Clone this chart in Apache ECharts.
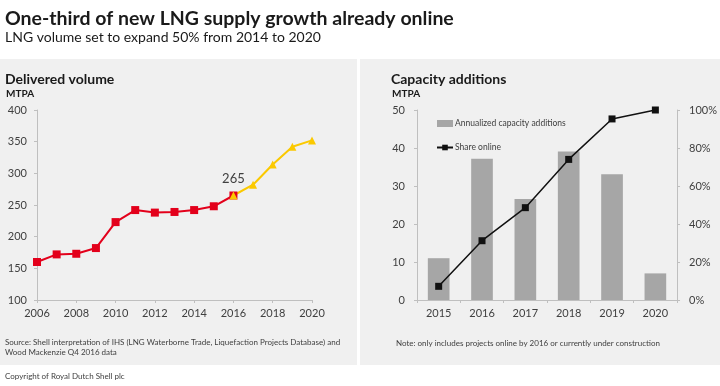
<!DOCTYPE html>
<html><head><meta charset="utf-8">
<script src="https://cdn.jsdelivr.net/npm/echarts@6/dist/echarts.min.js"></script>
<style>html,body{margin:0;padding:0;background:#fff}#c{width:720px;height:386px}</style>
</head><body><div id="c"></div>
<script>
const years = [2006,2007,2008,2009,2010,2011,2012,2013,2014,2015,2016,2017,2018,2019,2020];
const volumeActual = [160,172,173,182,223,242,238,239,242,248,265,null,null,null,null];
const volumeForecast = [null,null,null,null,null,null,null,null,null,null,265,282,314,342,352];
const capYears = ['2015','2016','2017','2018','2019','2020'];
const capacityAdditions = [11.0,37.2,26.6,39.1,33.1,7.0];
const shareOnline = [7.2,31.2,48.6,74,95.3,100];

const FONT = 'Lato';
const TXT = '#404040';
const chart = echarts.init(document.getElementById('c'));
chart.setOption({
  animation:false,
  backgroundColor:'#fff',
  textStyle:{fontFamily:FONT},
  graphic:[
    {type:'rect',shape:{x:0,y:59,width:357,height:306},style:{fill:'#f0f0f0'},z:-10},
    {type:'rect',shape:{x:360,y:59,width:360,height:306},style:{fill:'#f0f0f0'},z:-10},
    {type:'text',left:5,top:9,style:{text:'One-third of new LNG supply growth already online',font:'bold 19.5px '+FONT,fill:'#1a1a1a'}},
    {type:'text',left:5,top:30,style:{text:'LNG volume set to expand 50% from 2014 to 2020',font:'14px '+FONT,fill:'#1a1a1a'}},
    {type:'text',left:5,top:72,style:{text:'Delivered volume',font:'bold 14px '+FONT,fill:'#1a1a1a'}},
    {type:'text',left:6,top:89,style:{text:'MTPA',font:'bold 10px '+FONT,fill:'#1a1a1a'}},
    {type:'text',left:391,top:72,style:{text:'Capacity additions',font:'bold 14px '+FONT,fill:'#1a1a1a'}},
    {type:'text',left:392,top:89,style:{text:'MTPA',font:'bold 10px '+FONT,fill:'#1a1a1a'}},
    {type:'text',left:5,top:337,style:{text:'Source: Shell interpretation of IHS (LNG Waterborne Trade, Liquefaction Projects Database) and\nWood Mackenzie Q4 2016 data',font:'8px '+FONT,fill:TXT,lineHeight:10}},
    {type:'text',left:396,top:339,style:{text:'Note: only includes projects online by 2016 or currently under construction',font:'8px '+FONT,fill:TXT}},
    {type:'text',left:5,top:372,style:{text:'Copyright of Royal Dutch Shell plc',font:'8px '+FONT,fill:TXT}}
  ],
  legend:{
    left:431, top:114, orient:'vertical', itemGap:15, itemWidth:16, itemHeight:7,
    textStyle:{fontSize:8.5,color:TXT,fontFamily:FONT,padding:[0,0,0,-3]},
    data:[{name:'Annualized capacity additions',icon:'rect'},{name:'Share online'}]
  },
  grid:[
    {left:37,right:408,top:110,bottom:86},
    {left:417,right:41,top:110,bottom:86}
  ],
  xAxis:[
    {type:'value',gridIndex:0,min:2006,max:2020,interval:2,
     axisLine:{lineStyle:{color:'#bfbfbf'}},axisTick:{show:true,length:3,inside:false,lineStyle:{color:'#bfbfbf'}},
     splitLine:{show:false},axisLabel:{color:TXT,fontSize:11,margin:8,formatter:v=>String(v)}},
    {type:'category',gridIndex:1,data:capYears,
     axisLine:{lineStyle:{color:'#bfbfbf'}},axisTick:{show:true,length:3,lineStyle:{color:'#bfbfbf'}},
     axisLabel:{color:TXT,fontSize:11,margin:8}}
  ],
  yAxis:[
    {type:'value',gridIndex:0,min:100,max:400,interval:50,
     axisLine:{show:true,lineStyle:{color:'#bfbfbf'}},axisTick:{show:true,length:3,lineStyle:{color:'#bfbfbf'}},
     splitLine:{show:false},axisLabel:{color:TXT,fontSize:11,margin:10}},
    {type:'value',gridIndex:1,min:0,max:50,interval:10,
     axisLine:{show:true,lineStyle:{color:'#bfbfbf'}},axisTick:{show:true,length:3,lineStyle:{color:'#bfbfbf'}},
     splitLine:{show:false},axisLabel:{color:TXT,fontSize:11,margin:12}},
    {type:'value',gridIndex:1,min:0,max:100,interval:20,position:'right',
     axisLine:{show:true,lineStyle:{color:'#bfbfbf'}},axisTick:{show:true,length:3,lineStyle:{color:'#bfbfbf'}},
     splitLine:{show:false},axisLabel:{color:TXT,fontSize:11,margin:12,formatter:'{value}%'}}
  ],
  series:[
    {type:'line',xAxisIndex:0,yAxisIndex:0,data:years.map((y,i)=>[y,volumeActual[i]]).filter(d=>d[1]!=null),
     color:'#e3001b',lineStyle:{width:2,color:'#e3001b'},symbol:'rect',symbolSize:8,
     itemStyle:{color:'#e3001b'}},
    {type:'line',xAxisIndex:0,yAxisIndex:0,data:years.map((y,i)=>[y,volumeForecast[i]]).filter(d=>d[1]!=null),
     color:'#fbc900',lineStyle:{width:2,color:'#fbc900'},symbol:'triangle',symbolSize:8,
     itemStyle:{color:'#fbc900'},
     label:{show:true,position:'top',distance:6,fontSize:13,color:'#404040',
       formatter:p=>p.dataIndex===0?String(p.value[1]):''}},
    {name:'Annualized capacity additions',type:'bar',xAxisIndex:1,yAxisIndex:1,data:capacityAdditions,
     barWidth:'50%',itemStyle:{color:'#a6a6a6'}},
    {name:'Share online',type:'line',xAxisIndex:1,yAxisIndex:2,data:shareOnline,
     symbol:'rect',symbolSize:7,lineStyle:{width:1.5,color:'#111'},itemStyle:{color:'#111'},color:'#111'}
  ]
});
</script></body></html>
